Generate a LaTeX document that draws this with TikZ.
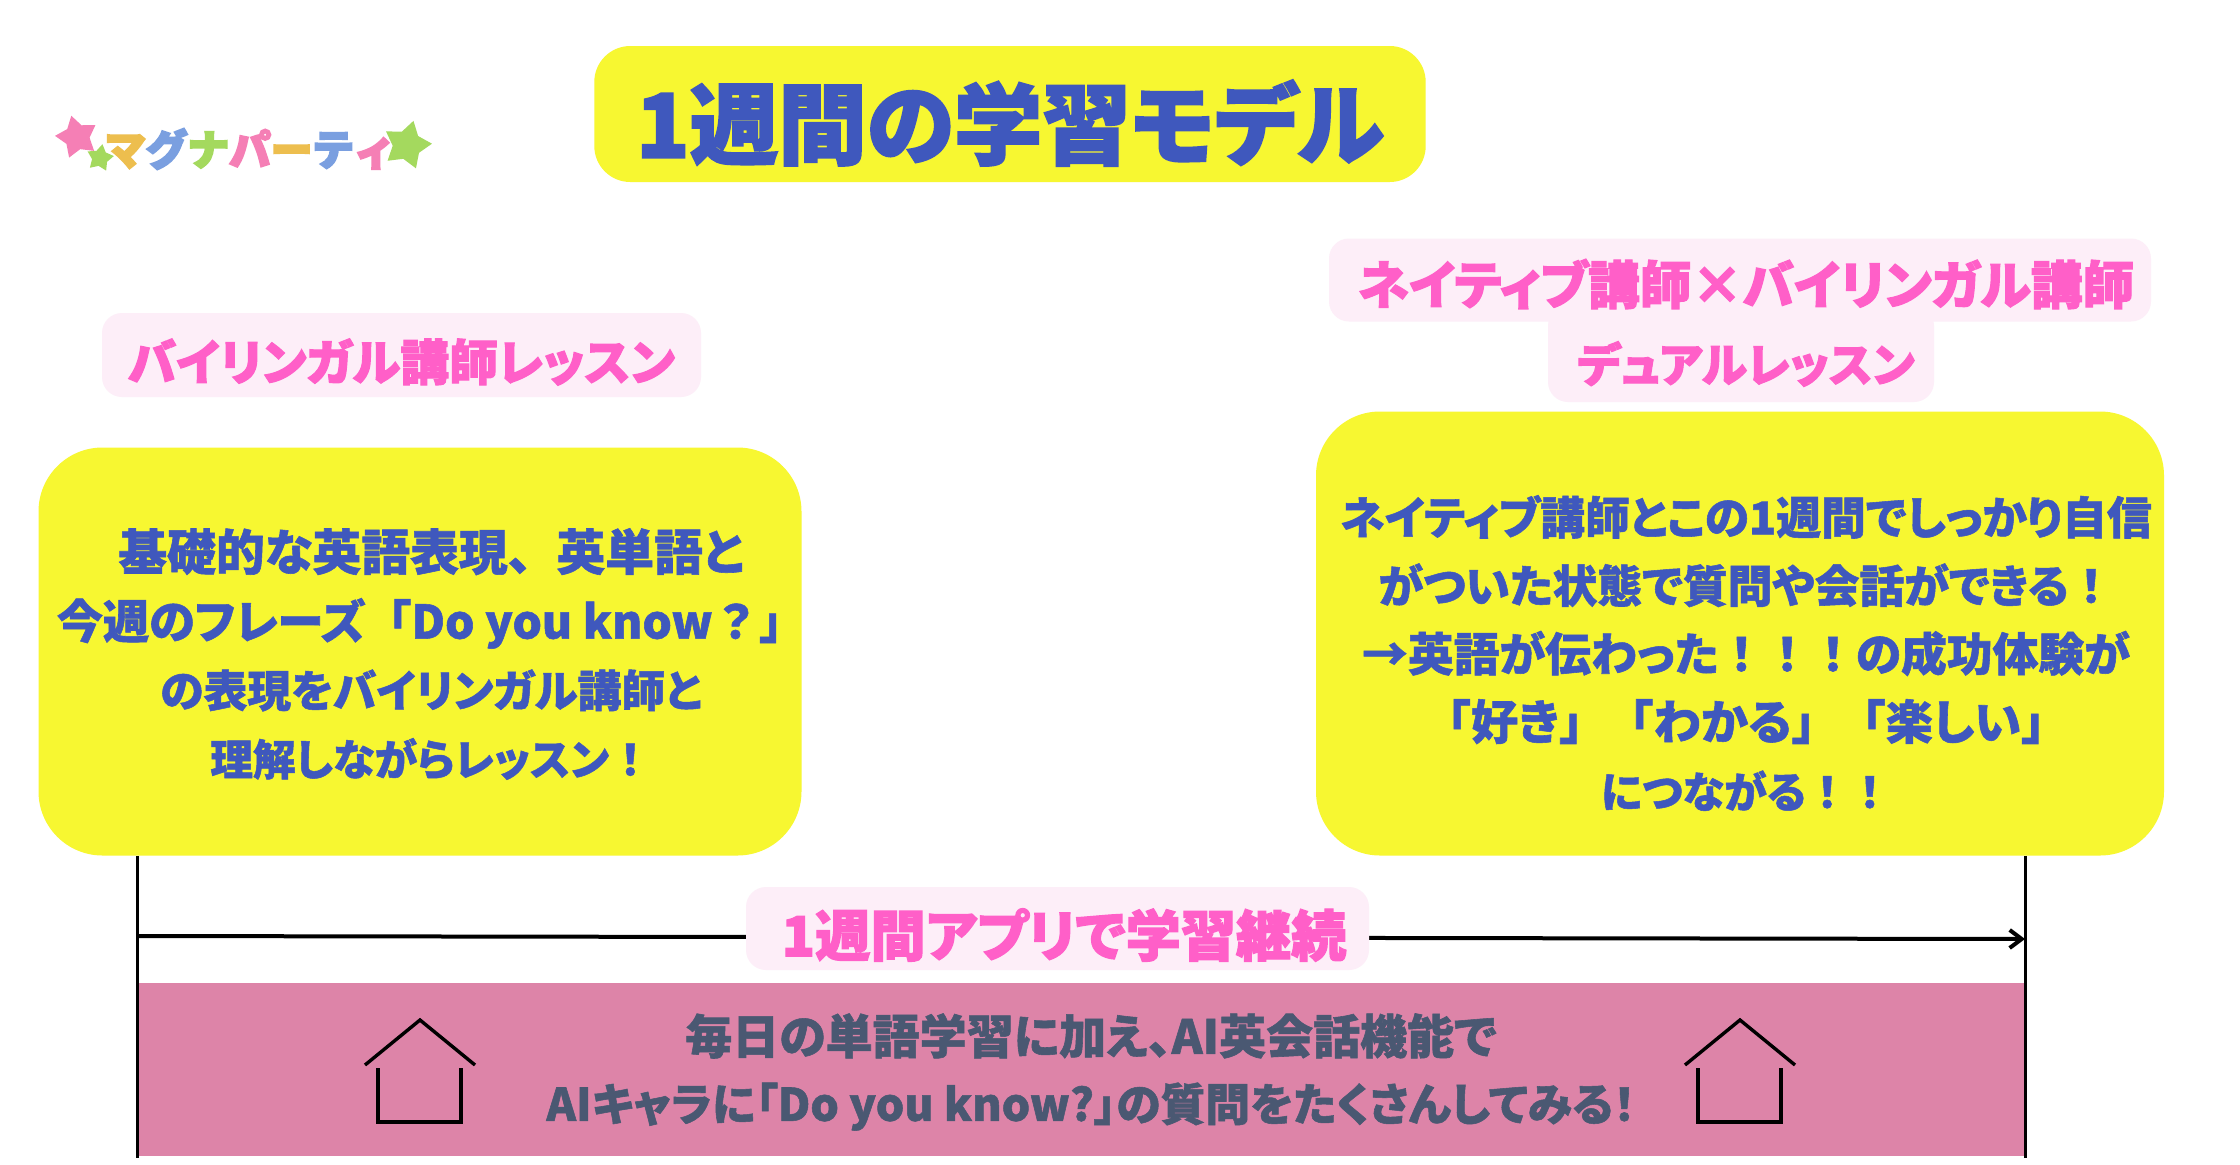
\documentclass[tikz,border=0pt]{standalone}
\usepackage{fontspec}
\usepackage{tikz}
\usetikzlibrary{arrows.meta}
\usetikzlibrary{shapes.geometric}
\newfontfamily\jpfont[RawFeature={+palt},BoldFeatures={FakeBold=1.2}]{Noto Sans CJK JP}
\newfontfamily\jpwide[BoldFeatures={FakeBold=1.2}]{Noto Sans CJK JP}
\newfontfamily\jpheavy[RawFeature={+palt},BoldFeatures={FakeBold=2.2}]{Noto Sans CJK JP}
\newfontfamily\jplogo[BoldFeatures={FakeBold=5}]{Noto Sans CJK JP}
\definecolor{MarkerYellow}{HTML}{F7F731}
\definecolor{InkBlue}{HTML}{3F58BD}
\definecolor{LabelPink}{HTML}{FF5FC8}
\definecolor{LabelBack}{HTML}{FDEEF8}
\definecolor{BandPink}{HTML}{DD84A8}
\definecolor{BandInk}{HTML}{4A5872}
\definecolor{LogoPink}{HTML}{F57FB5}
\definecolor{LogoGreen}{HTML}{A4D95E}
\definecolor{LogoBlue}{HTML}{7A9FE0}
\definecolor{LogoGold}{HTML}{EDBE4E}
\newcommand{\FullMark}[1]{{\jpwide\bfseries #1}}
\newcommand{\LineSize}[1]{\fontsize{#1}{34.2}\selectfont}
\newcommand{\DrawHouse}[1]{
	\draw[houseline] (#1-55,1065) -- (#1,1020) -- (#1+55,1065);
	\draw[houseline] (#1-42,1068) -- (#1-42,1122) -- (#1+41,1122) -- (#1+41,1068);
}
\tikzset{
	x=0.5pt, y=-0.5pt,
	yellowbox/.style={fill=MarkerYellow, inner sep=0pt, rounded corners=32pt},
	pinkback/.style={fill=LabelBack, inner sep=0pt, rounded corners=10pt},
	pinklabel/.style={text=LabelPink, font=\fontsize{24.4}{30}\selectfont\jpheavy\bfseries},
	bodytext/.style={text=InkBlue, align=center, font=\fontsize{22.4}{34.2}\selectfont\jpfont\bfseries},
	bandtext/.style={text=BandInk, align=center, font=\fontsize{22.4}{33.5}\selectfont\jpfont\bfseries},
	logoletter/.style={font=\fontsize{20.8}{21}\selectfont\jplogo\bfseries},
	logostar/.style={star, star points=5, star point ratio=1.75, inner sep=0pt},
	houseline/.style={line width=1.7pt, black},
	railline/.style={line width=1.5pt, black},
	arrowline/.style={line width=2pt, black},
}
\begin{document}
\begin{tikzpicture}
	\useasboundingbox (0,0) rectangle (2240,1164);
	\fill[white] (0,0) rectangle (2240,1164);

	% logo
	\node[logostar, fill=LogoPink, minimum size=22pt, rotate=15] (starone) at (77,137) {};
	\node[logostar, fill=LogoGreen, minimum size=14pt, rotate=-10] (startwo) at (100,158) {};
	\node[logostar, fill=LogoGreen, minimum size=25pt, rotate=-15] (starthree) at (407,145) {};
	\node[logoletter, inner sep=0pt] (logotext) at (250,149) {\textcolor{LogoGold}{マ}\textcolor{LogoBlue}{グ}\textcolor{LogoGreen}{ナ}\textcolor{LogoPink}{パ}\textcolor{LogoGold}{ー}\textcolor{LogoBlue}{テ}\textcolor{LogoPink}{ィ}};

	% title
	\node[fill=MarkerYellow, inner sep=0pt, rounded corners=18pt, minimum width=415.7pt, minimum height=68pt] (titlebox) at (1010,114) {};
	\node[text=InkBlue, font=\fontsize{44.2}{50}\selectfont\jpheavy\bfseries] (titletext) at (1010,123) {1週間の学習モデル};

	% left lesson
	\node[pinkback, minimum width=299.5pt, minimum height=42pt] (leftback) at (401.5,355) {};
	\node[pinklabel] (lefttitle) at (401.5,362) {バイリンガル講師レッスン};
	\node[yellowbox, minimum width=381.5pt, minimum height=204pt] (leftbox) at (420,651.5) {};
	\node[bodytext] (lefttext) at (431,654) {{\LineSize{24.4}基礎的な英語表現\FullMark{、}英単語と}\\{\LineSize{23.1}今週のフレーズ\FullMark{「}Do you know\FullMark{？」}}\\{\LineSize{21.9}の表現をバイリンガル講師と}\\{\LineSize{21.3}理解しながらレッスン\FullMark{！}}};

	% right lesson
	\node[pinkback, minimum width=193pt, minimum height=48pt] (dualback) at (1741,354) {};
	\node[pinkback, minimum width=411pt, minimum height=41.5pt] (nativeback) at (1740,280) {};
	\node[pinklabel, font=\fontsize{25.8}{30}\selectfont\jpheavy\bfseries] (nativetitle) at (1746,284) {ネイティブ講師×バイリンガル講師};
	\node[pinklabel, font=\fontsize{23.1}{30}\selectfont\jpheavy\bfseries] (dualtitle) at (1746,364) {デュアルレッスン};
	\node[yellowbox, minimum width=424pt, minimum height=222pt] (rightbox) at (1740,633.5) {};
	\node[bodytext] (righttext) at (1746,653) {ネイティブ講師とこの1週間でしっかり自信\\がついた状態で質問や会話ができる\FullMark{！}\\{\LineSize{22.9}→英語が伝わった\FullMark{！！！}の成功体験が}\\{\LineSize{23.6}\FullMark{「}好き\FullMark{」「}わかる\FullMark{」「}楽しい\FullMark{」}}\\{\LineSize{21.3}につながる\FullMark{！！}}};

	% app band
	\node[fill=BandPink, inner sep=0pt, minimum width=944pt, minimum height=86.5pt] (band) at (1081,1069.5) {};
	\node[bandtext] (bandlabel) at (1091,1072) {{\fontsize{23.5}{33.5}\selectfont 毎日の単語学習に加え、AI英会話機能で}\\AIキャラに「Do you know?」の質問をたくさんしてみる！};
	\DrawHouse{420}
	\DrawHouse{1740}

	% rails
	\coordinate (leftend) at (137,1158);
	\coordinate (rightend) at (2025,1158);
	\coordinate (arrowstart) at (137,936);
	\coordinate (arrowend) at (2025,939);
	\draw[railline] (leftbox.south -| leftend) -- (leftend);
	\draw[railline] (rightbox.south -| rightend) -- (rightend);
	\draw[arrowline, -{Straight Barb[length=6pt,width=9pt]}] (arrowstart) -- (arrowend);
	\node[pinkback, minimum width=311.5pt, minimum height=41.5pt] (appback) at (1057.5,928.5) {};
	\node[pinklabel, font=\fontsize{27.6}{30}\selectfont\jpheavy\bfseries] (apptitle) at (1064,935) {1週間アプリで学習継続};
\end{tikzpicture}
\end{document}
